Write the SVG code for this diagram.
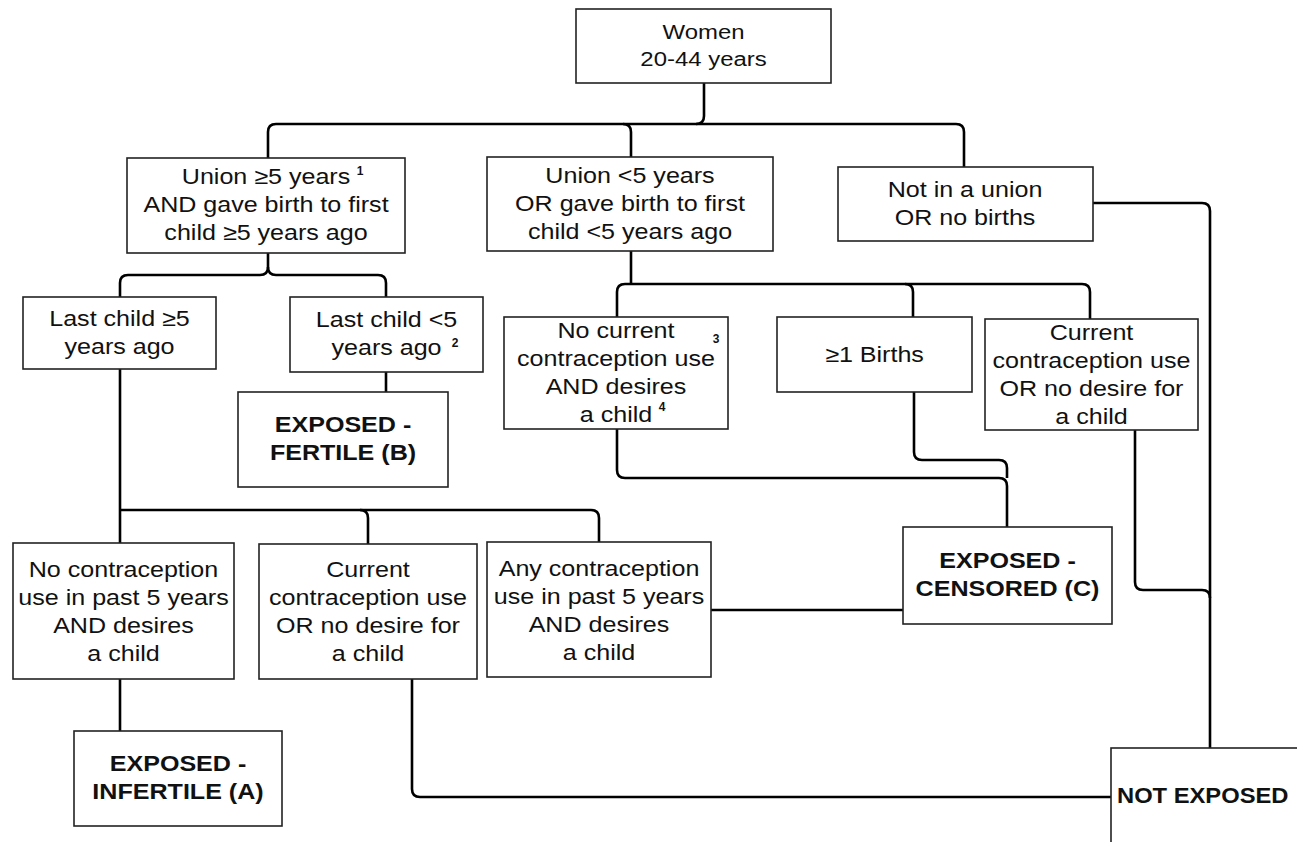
<svg xmlns="http://www.w3.org/2000/svg" width="1297" height="842" viewBox="0 0 1297 842">
<style>
.bg{fill:#ffffff}
.box{fill:#ffffff;stroke:#222;stroke-width:1.6}
.t{font-family:"Liberation Sans",Arial,sans-serif;font-size:22px;fill:#111;text-anchor:middle}
.b{font-weight:bold}
.s{text-anchor:start}
.sup{font-family:"Liberation Sans",Arial,sans-serif;font-size:12px;fill:#111;text-anchor:middle;font-weight:bold}
.c{fill:none;stroke:#000;stroke-width:2.6;stroke-linejoin:round}
</style>
<rect class="bg" x="0" y="0" width="1297" height="842"/>
<g id="connectors">
<path class="c" d="M704,83 V116 Q704,124 696,124"/>
<path class="c" d="M268,158 V132 Q268,124 276,124 H956 Q964,124 964,132 V167"/>
<path class="c" d="M623,124 Q631,124 631,132 V157"/>
<path class="c" d="M268,253 V267 Q268,275 260,275 H128 Q120,275 120,283 V297"/>
<path class="c" d="M268,267 Q268,275 276,275 H378 Q386,275 386,283 V297"/>
<path class="c" d="M386,372 V392"/>
<path class="c" d="M631,251 V284"/>
<path class="c" d="M617,317 V292 Q617,284 625,284 H1082 Q1090,284 1090,292 V319"/>
<path class="c" d="M905,284 Q913,284 913,292 V317"/>
<path class="c" d="M120,369 V543"/>
<path class="c" d="M120,510 H591 Q599,510 599,518 V542"/>
<path class="c" d="M360,510 Q368,510 368,518 V544"/>
<path class="c" d="M120,679 V731"/>
<path class="c" d="M412,679 V789 Q412,797 420,797 H1111"/>
<path class="c" d="M711,610 H903"/>
<path class="c" d="M617,429 V470 Q617,478 625,478 H999 Q1007,478 1007,486 V527"/>
<path class="c" d="M914,392 V452 Q914,460 922,460 H999 Q1007,460 1007,468 V478"/>
<path class="c" d="M1093,203 H1202 Q1210,203 1210,211 V748"/>
<path class="c" d="M1135,430 V582 Q1135,590 1143,590 H1202 Q1210,590 1210,598"/>
</g>
<g id="women">
<rect class="box" x="576" y="9" width="255" height="74"/>
<text class="t" transform="translate(703.5 0) scale(1.14 1)" style="font-size:21px"><tspan x="0" y="39">Women</tspan><tspan x="0" y="66">20-44 years</tspan></text>
</g>
<g id="union-ge5">
<rect class="box" x="127" y="158" width="278" height="95"/>
<text class="t" transform="translate(266 0) scale(1.14 1)"><tspan x="0" y="184">Union ≥5 years</tspan><tspan x="0" y="212">AND gave birth to first</tspan><tspan x="0" y="240">child ≥5 years ago</tspan></text>
<text class="sup" x="360" y="175">1</text>
</g>
<g id="union-lt5">
<rect class="box" x="487" y="157" width="286" height="94"/>
<text class="t" transform="translate(630 0) scale(1.14 1)"><tspan x="0" y="183">Union &lt;5 years</tspan><tspan x="0" y="211">OR gave birth to first</tspan><tspan x="0" y="239">child &lt;5 years ago</tspan></text>
</g>
<g id="not-union">
<rect class="box" x="838" y="167" width="255" height="74"/>
<text class="t" transform="translate(965 0) scale(1.14 1)"><tspan x="0" y="197">Not in a union</tspan><tspan x="0" y="225">OR no births</tspan></text>
</g>
<g id="last-ge5">
<rect class="box" x="23" y="297" width="193" height="72"/>
<text class="t" transform="translate(119.5 0) scale(1.14 1)"><tspan x="0" y="326">Last child ≥5</tspan><tspan x="0" y="354">years ago</tspan></text>
</g>
<g id="last-lt5">
<rect class="box" x="290" y="297" width="193" height="75"/>
<text class="t" transform="translate(386.5 0) scale(1.14 1)"><tspan x="0" y="327">Last child &lt;5</tspan><tspan x="0" y="355">years ago</tspan></text>
<text class="sup" x="455" y="347">2</text>
</g>
<g id="exposed-fertile">
<rect class="box" x="238" y="392" width="210" height="95"/>
<text class="t b" transform="translate(343 0) scale(1.14 1)"><tspan x="0" y="432">EXPOSED -</tspan><tspan x="0" y="460">FERTILE (B)</tspan></text>
</g>
<g id="no-current">
<rect class="box" x="504" y="317" width="224" height="112"/>
<text class="t" transform="translate(616 0) scale(1.14 1)"><tspan x="0" y="338">No current</tspan><tspan x="0" y="366">contraception use</tspan><tspan x="0" y="394">AND desires</tspan><tspan x="0" y="422">a child</tspan></text>
<text class="sup" x="716" y="343">3</text>
<text class="sup" x="662" y="411">4</text>
</g>
<g id="births">
<rect class="box" x="777" y="317" width="195" height="75"/>
<text class="t" transform="translate(874.5 0) scale(1.14 1)"><tspan x="0" y="362">≥1 Births</tspan></text>
</g>
<g id="current-right">
<rect class="box" x="985" y="319" width="213" height="111"/>
<text class="t" transform="translate(1091.5 0) scale(1.14 1)"><tspan x="0" y="340">Current</tspan><tspan x="0" y="368">contraception use</tspan><tspan x="0" y="396">OR no desire for</tspan><tspan x="0" y="424">a child</tspan></text>
</g>
<g id="exposed-censored">
<rect class="box" x="903" y="527" width="209" height="97"/>
<text class="t b" transform="translate(1007.5 0) scale(1.14 1)"><tspan x="0" y="568">EXPOSED -</tspan><tspan x="0" y="596">CENSORED (C)</tspan></text>
</g>
<g id="no-contraception">
<rect class="box" x="13" y="543" width="221" height="136"/>
<text class="t" transform="translate(123.5 0) scale(1.14 1)"><tspan x="0" y="577">No contraception</tspan><tspan x="0" y="605">use in past 5 years</tspan><tspan x="0" y="633">AND desires</tspan><tspan x="0" y="661">a child</tspan></text>
</g>
<g id="current-left">
<rect class="box" x="259" y="544" width="218" height="135"/>
<text class="t" transform="translate(368 0) scale(1.14 1)"><tspan x="0" y="577">Current</tspan><tspan x="0" y="605">contraception use</tspan><tspan x="0" y="633">OR no desire for</tspan><tspan x="0" y="661">a child</tspan></text>
</g>
<g id="any-contraception">
<rect class="box" x="487" y="542" width="224" height="135"/>
<text class="t" transform="translate(599 0) scale(1.14 1)"><tspan x="0" y="576">Any contraception</tspan><tspan x="0" y="604">use in past 5 years</tspan><tspan x="0" y="632">AND desires</tspan><tspan x="0" y="660">a child</tspan></text>
</g>
<g id="exposed-infertile">
<rect class="box" x="74" y="731" width="208" height="95"/>
<text class="t b" transform="translate(178 0) scale(1.14 1)"><tspan x="0" y="771">EXPOSED -</tspan><tspan x="0" y="799">INFERTILE (A)</tspan></text>
</g>
<g id="not-exposed">
<rect class="box" x="1111" y="748" width="200" height="110"/>
<text class="t b s" transform="translate(1117 0) scale(1.08 1)"><tspan x="0" y="803">NOT EXPOSED</tspan></text>
</g>
</svg>
